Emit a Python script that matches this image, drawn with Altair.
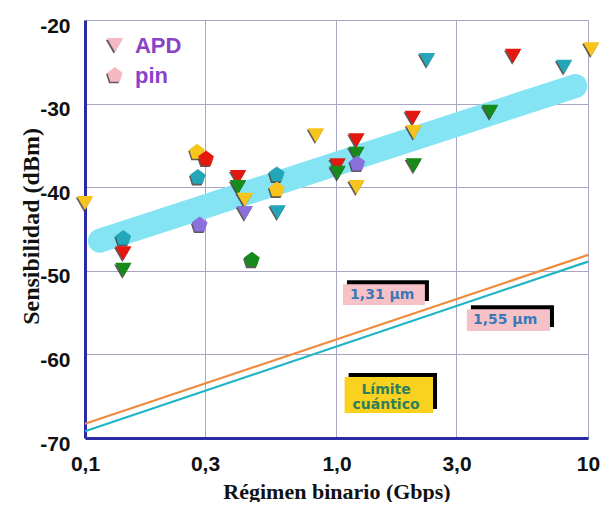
import altair as alt
import pandas as pd

# ---- data ----
R, G, Y, C, P = "#e3180e", "#178a1c", "#f6c41a", "#23a6b9", "#8b6fdc"

px = [0.1, 0.142, 0.142, 0.142, 0.279, 0.303, 0.281, 0.286, 0.406, 0.406,
      0.432, 0.432, 0.461, 0.579, 0.579, 0.583, 0.828, 1.01, 1.01, 1.2,
      1.2, 1.21, 1.2, 2.29, 2.01, 2.03, 2.03, 4.08, 5.04, 8.03, 10.3]
py = [-41.9, -49.9, -47.9, -46.1, -35.8, -36.6, -38.8, -44.5, -38.8, -40.0,
      -43.1, -41.5, -48.7, -40.3, -38.5, -43.0, -33.8, -37.4, -38.3, -34.4,
      -36.0, -37.2, -40.0, -24.8, -31.7, -33.4, -37.4, -31.0, -24.3, -25.6, -23.5]
kind = ["APD", "APD", "APD", "pin", "pin", "pin", "pin", "pin", "APD", "APD",
        "APD", "APD", "pin", "pin", "pin", "APD", "APD", "APD", "APD", "APD",
        "APD", "pin", "APD", "APD", "APD", "APD", "APD", "APD", "APD", "APD", "APD"]
cols = [Y, G, R, C, Y, R, C, P, R, G,
        P, Y, G, Y, C, C, Y, R, G, R,
        G, P, Y, C, R, Y, G, G, R, C, Y]

# legend entries (drawn as marks in data space)
leg_kind = ["APD", "pin"]
leg_sym_x = [0.1316, 0.1316]
leg_y = [-23.0, -26.6]
leg_txt_x = [0.158, 0.158]

band_x = [0.1147, 8.9]
band_y = [-46.4, -27.9]

lim_x = [0.1, 10]
lim131_y = [-68.3, -48.1]
lim155_y = [-69.2, -48.9]

box_x1 = [1.061, 3.30, 1.077]
box_x2 = [2.247, 7.06, 2.42]
box_y1 = [-51.6, -54.6, -62.7]
box_y2 = [-54.1, -57.2, -67.0]
box_fill = ["#f6c2c8", "#f6c2c8", "#f8d21e"]

txt = ["1,31 µm", "1,55 µm", "Límite", "cuántico"]
txt_x = [1.52, 4.68, 1.574, 1.574]
txt_y = [-52.85, -55.9, -64.3, -66.1]
txt_col = ["#3a78b8", "#3a78b8", "#2f7f5c", "#2f7f5c"]

tick_vals = [0.1, 0.3, 1, 3, 10]
tick_text = ["0,1", "0,3", "1,0", "3,0", "10"]
ytick_vals = [-70, -60, -50, -40, -30, -20]

PENT = "M0,-1L0.951,-0.309L0.588,0.809L-0.588,0.809L-0.951,-0.309Z"
# -------------------------------------

pts = pd.DataFrame({"x": px, "y": py, "kind": kind, "col": cols})
leg = pd.DataFrame({"x": leg_sym_x, "tx": leg_txt_x, "y": leg_y, "kind": leg_kind})
band = pd.DataFrame({"x": band_x, "y": band_y})
lines = pd.DataFrame({
    "x": lim_x + lim_x,
    "y": lim131_y + lim155_y,
    "s": ["1.31"] * 2 + ["1.55"] * 2,
})
boxes = pd.DataFrame({"x1": box_x1, "x2": box_x2, "y1": box_y1, "y2": box_y2, "fill": box_fill})
texts = pd.DataFrame({"x": txt_x, "y": txt_y, "t": txt, "c": txt_col})

xlabel_expr = " : ".join(
    f"datum.value == {v} ? '{t}'" for v, t in zip(tick_vals[:-1], tick_text[:-1])
) + f" : '{tick_text[-1]}'"

xscale = alt.Scale(type="log", domain=[0.1, 10])
yscale = alt.Scale(domain=[-70, -20])
shape_scale = alt.Scale(domain=["APD", "pin"], range=["triangle-down", PENT])

xaxis = alt.Axis(
    values=tick_vals,
    labelExpr=xlabel_expr,
    title="Régimen binario (Gbps)",
    grid=True, gridColor="#a9a6c4", gridWidth=1,
    ticks=False, domain=True, domainColor="#2b2ba6", domainWidth=3,
    labelFont="Liberation Sans", labelFontSize=21, labelFontWeight="bold", labelColor="#111",
    labelPadding=15, labelFlush=False,
    titleFont="Liberation Serif", titleFontSize=22, titleFontWeight="bold", titleColor="#111",
    titleBaseline="middle", titleY=53,
)
yaxis = alt.Axis(
    values=ytick_vals,
    labelExpr="'-' + abs(datum.value)",
    title="Sensibilidad (dBm)",
    grid=True, gridColor="#a9a6c4", gridWidth=1,
    ticks=False, domain=True, domainColor="#2b2ba6", domainWidth=3,
    labelFont="Liberation Sans", labelFontSize=21, labelFontWeight="bold", labelColor="#111",
    labelPadding=15, labelOffset=6,
    titleFont="Liberation Serif", titleFontSize=24, titleFontWeight="bold", titleColor="#111",
    titleAngle=-90, titleBaseline="middle", titleAlign="center", titleX=-54, titleY=206,
)

X = alt.X("x:Q", scale=xscale)
Yq = alt.Y("y:Q", scale=yscale)

band_layer = alt.Chart(band).mark_line(
    strokeWidth=24, strokeCap="round", color="#84e4f4"
).encode(x=alt.X("x:Q", scale=xscale, axis=xaxis), y=alt.Y("y:Q", scale=yscale, axis=yaxis))

line_layer = alt.Chart(lines).mark_line(strokeWidth=2.2).encode(
    x=X, y=Yq,
    color=alt.Color("s:N", scale=alt.Scale(domain=["1.31", "1.55"], range=["#f08a3c", "#1fb4c6"]), legend=None),
    detail="s:N",
)

shape_enc = alt.Shape("kind:N", scale=shape_scale, legend=None)

shadow_layer = alt.Chart(pts).mark_point(
    filled=True, size=270, color="#3b3030", opacity=0.8, xOffset=-1, yOffset=1.6, strokeWidth=0
).encode(x=X, y=Yq, shape=shape_enc)

pt_layer = alt.Chart(pts).mark_point(
    filled=True, size=270, opacity=1, strokeWidth=0
).encode(x=X, y=Yq, shape=shape_enc, color=alt.Color("col:N", scale=None))

leg_shadow = alt.Chart(leg).mark_point(
    filled=True, size=260, color="#3b3030", opacity=0.8, xOffset=-1.2, yOffset=1.6, strokeWidth=0
).encode(x=X, y=Yq, shape=shape_enc)

leg_sym = alt.Chart(leg).mark_point(
    filled=True, size=260, color="#f6b9c3", opacity=1, strokeWidth=0
).encode(x=X, y=Yq, shape=shape_enc)

leg_text = alt.Chart(leg).mark_text(
    font="Liberation Sans", fontSize=22, fontWeight="bold", color="#8a42c8",
    align="left", baseline="middle", dy=1
).encode(x=alt.X("tx:Q", scale=xscale), y=Yq, text="kind:N")

box_shadow = alt.Chart(boxes).mark_rect(
    color="black", xOffset=4, x2Offset=4, yOffset=-4, y2Offset=-4
).encode(x=alt.X("x1:Q", scale=xscale), x2="x2:Q", y=alt.Y("y1:Q", scale=yscale), y2="y2:Q")

box_layer = alt.Chart(boxes).mark_rect().encode(
    x=alt.X("x1:Q", scale=xscale), x2="x2:Q", y=alt.Y("y1:Q", scale=yscale), y2="y2:Q",
    color=alt.Color("fill:N", scale=None),
)

text_layer = alt.Chart(texts).mark_text(
    font="DejaVu Sans", fontSize=14, fontWeight="bold", align="center", baseline="middle"
).encode(x=X, y=Yq, text="t:N", color=alt.Color("c:N", scale=None))

chart = alt.layer(
    band_layer, line_layer, box_shadow, box_layer, text_layer,
    shadow_layer, pt_layer, leg_shadow, leg_sym, leg_text
).properties(
    width=503, height=418,
    autosize=alt.AutoSizeParams(type="none"),
    padding={"left": 77, "top": 12, "right": 14, "bottom": 64},
).configure_view(
    stroke="#2b2ba6", strokeWidth=2.5
).configure(background="white")

chart.save("out.html", embed_options={"renderer": "svg", "actions": False})
